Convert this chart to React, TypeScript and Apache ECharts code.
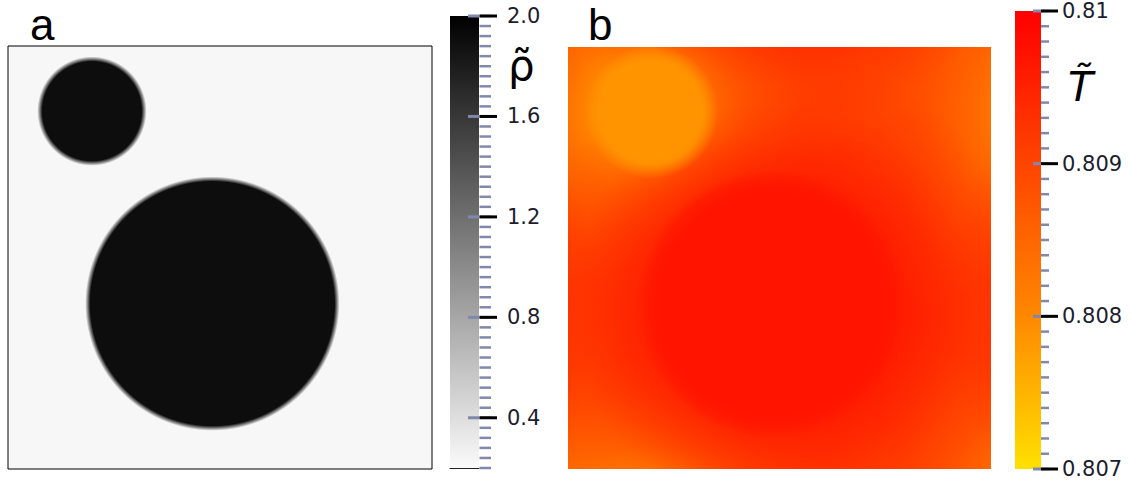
import React, { useEffect, useRef } from 'react';
import * as echarts from 'echarts';

// ---- data (domain coordinates 0..1, periodic box) ----
const dropletX = [0.198, 0.482];
const dropletY = [0.846, 0.391];
const dropletR = [0.123, 0.294];
const dropletRho = [1.91, 1.91];
const dropletT = [0.80786, 0.8097];
const rhoVapor = 0.22;
const tVapor = 0.8092;

// interface profile of density (distance beyond droplet edge -> value)
const rhoEdgeDist = [-0.006, 0, 0.006];
const rhoEdgeValue = [1.91, 1.07, 0.22];

// temperature: far halos (distance beyond droplet edge -> value)
const coldHaloDist = [-0.015, 0.012, 0.03, 0.05, 0.09, 0.15, 0.22, 0.33, 0.5];
const coldHaloT = [0.80786, 0.808, 0.8081, 0.8082, 0.8084, 0.8086, 0.8088, 0.809, 0.8092];
const hotHaloDist = [-0.03, 0, 0.024, 0.095, 0.19, 0.31];
const hotHaloT = [0.8097, 0.80965, 0.80955, 0.80945, 0.8093, 0.8092];
// temperature: droplet interiors
const coldCoreDist = [-0.025, 0, 0.035];
const coldCoreT = [0.80786, 0.80795, 0.8092];
const hotCoreDist = [-0.06, -0.03];
const hotCoreT = [0.8097, 0.8097];

// colorbars
const rhoMin = 0.2;
const rhoMax = 2.0;
const rhoTicks = [0.4, 0.8, 1.2, 1.6, 2.0];
const rhoTickLabels = ['0.4', '0.8', '1.2', '1.6', '2.0'];
const rhoMinorStep = 0.04;
const tMin = 0.807;
const tMax = 0.81;
const tTicks = [0.807, 0.808, 0.809, 0.81];
const tTickLabels = ['0.807', '0.808', '0.809', '0.81'];
const tMinorStep = 0.0001;

// colormaps (value -> color)
const grayMapV = [0.2, 2.0];
const grayMapC = ['#fafafa', '#000000'];
const redMapV = [0.807, 0.808, 0.809, 0.81];
const redMapC = ['#ffe000', '#ff8800', '#ff4400', '#ff0000'];

const TICK_BLUE = '#8088ad';
const LABEL_COLOR = '#1c1c2e';
const LABEL_FONT = 'DejaVu Sans';

function hexRgb(h: string) {
  return [parseInt(h.slice(1, 3), 16), parseInt(h.slice(3, 5), 16), parseInt(h.slice(5, 7), 16)];
}
function rgbAt(vs: number[], cs: string[], v: number) {
  if (v <= vs[0]) return hexRgb(cs[0]);
  if (v >= vs[vs.length - 1]) return hexRgb(cs[cs.length - 1]);
  for (let i = 0; i < vs.length - 1; i++) {
    if (v >= vs[i] && v <= vs[i + 1]) {
      const t = (v - vs[i]) / (vs[i + 1] - vs[i]);
      const a = hexRgb(cs[i]);
      const b = hexRgb(cs[i + 1]);
      return [0, 1, 2].map((k) => Math.round(a[k] + (b[k] - a[k]) * t));
    }
  }
  return hexRgb(cs[0]);
}
function rgba(c: number[], a: number) {
  return `rgba(${c[0]},${c[1]},${c[2]},${a})`;
}

function makeBlobRenderer(dists: number[][], vals: number[][], bg: number, vs: number[], cs: string[]) {
  return (params: any, api: any) => {
    const i = params.dataIndex;
    const cx = api.value(0);
    const cy = api.value(1);
    const r = api.value(2);
    const core = api.value(3);
    const d = dists[i];
    const v = vals[i];
    const outer = r + d[d.length - 1];
    const c = rgbAt(vs, cs, core);
    const stops: any[] = [{ offset: 0, color: rgba(c, 1) }];
    for (let k = 0; k < d.length; k++) {
      const a = Math.max(0, Math.min(1, (v[k] - bg) / (core - bg)));
      stops.push({ offset: Math.max(0, Math.min(1, (r + d[k]) / outer)), color: rgba(c, +a.toFixed(3)) });
    }
    const children: any[] = [];
    for (const dx of [-1, 0, 1]) {
      for (const dy of [-1, 0, 1]) {
        const p = api.coord([cx + dx, cy + dy]);
        const s = api.size([outer, outer]);
        children.push({
          type: 'circle',
          shape: { cx: p[0], cy: p[1], r: s[0] },
          style: { fill: { type: 'radial', x: 0.5, y: 0.5, r: 0.5, colorStops: stops } },
        });
      }
    }
    return { type: 'group', children };
  };
}

function makeBarRenderer(vs: number[], cs: string[]) {
  return (params: any, api: any) => {
    const lo = api.value(1);
    const hi = api.value(2);
    const p0 = api.coord([0, hi]);
    const p1 = api.coord([1, lo]);
    const stops = vs.map((v, k) => ({ offset: (hi - v) / (hi - lo), color: cs[k] })).reverse();
    return {
      type: 'rect',
      shape: { x: p0[0], y: p0[1], width: p1[0] - p0[0], height: p1[1] - p0[1] },
      style: { fill: { type: 'linear', x: 0, y: 0, x2: 0, y2: 1, colorStops: stops } },
    };
  };
}

// tick mark at the bar's right edge (x = 1), from dx0 to dx1 pixels
function makeTickRenderer(dx0: number, dx1: number, color: string, width: number) {
  return (params: any, api: any) => {
    const p = api.coord([1, api.value(1)]);
    return {
      type: 'line',
      shape: { x1: p[0] + dx0, y1: p[1], x2: p[0] + dx1, y2: p[1] },
      style: { stroke: color, lineWidth: width },
    };
  };
}

function labelFor(ticks: number[], labels: string[]) {
  return (v: number) => {
    let best = 0;
    for (let i = 1; i < ticks.length; i++) if (Math.abs(ticks[i] - v) < Math.abs(ticks[best] - v)) best = i;
    return labels[best];
  };
}

function stepValues(min: number, max: number, step: number) {
  const n = Math.round((max - min) / step);
  const out: number[] = [];
  for (let k = 0; k <= n; k++) out.push(+(min + k * step).toFixed(6));
  return out;
}

function tickSeries(grid: number, values: number[], dx0: number, dx1: number, color: string, width: number, z: number) {
  return {
    type: 'custom',
    xAxisIndex: grid,
    yAxisIndex: grid,
    z,
    encode: { x: 0, y: 1 },
    renderItem: makeTickRenderer(dx0, dx1, color, width),
    data: values.map((v) => [1, v]),
  };
}

export default function App() {
  const ref = useRef<HTMLDivElement>(null);
  useEffect(() => {
    if (!ref.current) return;
    const chart = echarts.init(ref.current, undefined, { renderer: 'svg' });
    const rhoData = dropletX.map((x, i) => [x, dropletY[i], dropletR[i], dropletRho[i]]);
    const tData = dropletX.map((x, i) => [x, dropletY[i], dropletR[i], dropletT[i]]);
    const hidden = (g: number) => ({ type: 'value', gridIndex: g, min: 0, max: 1, show: false });
    const labelAxis = (g: number, min: number, max: number, ticks: number[], labels: string[], margin: number) => ({
      type: 'value',
      gridIndex: g,
      position: 'right',
      min,
      max,
      axisLine: { show: false },
      axisTick: { show: false },
      splitLine: { show: false },
      axisLabel: {
        show: true,
        customValues: ticks,
        formatter: labelFor(ticks, labels),
        margin,
        fontSize: 21,
        fontFamily: LABEL_FONT,
        color: LABEL_COLOR,
      },
    });

    const option: any = {
      animation: false,
      backgroundColor: '#fff',
      grid: [
        { left: 8, top: 46, width: 424, height: 423, show: true, borderColor: '#000', borderWidth: 1, backgroundColor: rgba(rgbAt(grayMapV, grayMapC, rhoVapor), 1) },
        { left: 450, top: 16, width: 29, height: 452 },
        { left: 568, top: 47, width: 423, height: 422, show: true, borderWidth: 0, backgroundColor: rgba(rgbAt(redMapV, redMapC, tVapor), 1) },
        { left: 1015, top: 11, width: 26, height: 458 },
      ],
      xAxis: [
        hidden(0),
        { type: 'value', gridIndex: 1, min: 0, max: 1, axisLine: { show: true, lineStyle: { color: '#222', width: 1 } }, axisTick: { show: false }, axisLabel: { show: false }, splitLine: { show: false } },
        hidden(2),
        hidden(3),
      ],
      yAxis: [
        hidden(0),
        labelAxis(1, rhoMin, rhoMax, rhoTicks, rhoTickLabels, 28),
        hidden(2),
        labelAxis(3, tMin, tMax, tTicks, tTickLabels, 21),
      ],
      series: [
        {
          type: 'custom',
          xAxisIndex: 0,
          yAxisIndex: 0,
          clip: true,
          encode: { x: 0, y: 1 },
          renderItem: makeBlobRenderer([rhoEdgeDist, rhoEdgeDist], [rhoEdgeValue, rhoEdgeValue], rhoVapor, grayMapV, grayMapC),
          data: rhoData,
        },
        {
          type: 'custom',
          xAxisIndex: 1,
          yAxisIndex: 1,
          encode: { x: 0, y: [1, 2] },
          renderItem: makeBarRenderer(grayMapV, grayMapC),
          data: [[0, rhoMin, rhoMax]],
        },
        tickSeries(1, stepValues(rhoMin, rhoMax, rhoMinorStep), 0.5, 12, TICK_BLUE, 2.5, 4),
        tickSeries(1, rhoTicks, -11, 0, TICK_BLUE, 3, 5),
        tickSeries(1, rhoTicks, 0.5, 18, '#000', 3, 6),
        {
          type: 'custom',
          xAxisIndex: 2,
          yAxisIndex: 2,
          clip: true,
          z: 2,
          encode: { x: 0, y: 1 },
          renderItem: makeBlobRenderer([coldHaloDist, hotHaloDist], [coldHaloT, hotHaloT], tVapor, redMapV, redMapC),
          data: tData,
        },
        {
          type: 'custom',
          xAxisIndex: 2,
          yAxisIndex: 2,
          clip: true,
          z: 3,
          encode: { x: 0, y: 1 },
          renderItem: makeBlobRenderer([coldCoreDist, hotCoreDist], [coldCoreT, hotCoreT], tVapor, redMapV, redMapC),
          data: tData,
        },
        {
          type: 'custom',
          xAxisIndex: 3,
          yAxisIndex: 3,
          encode: { x: 0, y: [1, 2] },
          renderItem: makeBarRenderer(redMapV, redMapC),
          data: [[0, tMin, tMax]],
        },
        tickSeries(3, stepValues(tMin, tMax, tMinorStep), 0, 8, TICK_BLUE, 2.5, 4),
        tickSeries(3, tTicks, -8, 0, TICK_BLUE, 3, 5),
        tickSeries(3, tTicks, 0, 17, '#000', 3, 6),
      ],
      graphic: [
        { type: 'text', x: 30, y: 2, style: { text: 'a', fontSize: 44, fontFamily: 'Liberation Sans', fill: '#000' } },
        { type: 'text', x: 588, y: 2, style: { text: 'b', fontSize: 44, fontFamily: 'Liberation Sans', fill: '#000' } },
        { type: 'text', x: 508, y: 44, style: { text: 'ρ̃', fontSize: 42, fontFamily: 'DejaVu Sans', fill: '#000' } },
        { type: 'text', x: 1068, y: 66, style: { text: 'T̃', fontSize: 41, fontStyle: 'italic', fontFamily: 'DejaVu Sans', fill: '#000' } },
      ],
    };
    chart.setOption(option);
    return () => chart.dispose();
  }, []);
  return <div ref={ref} style={{ position: 'fixed', left: 0, top: 0, width: 1131, height: 480 }} />;
}
